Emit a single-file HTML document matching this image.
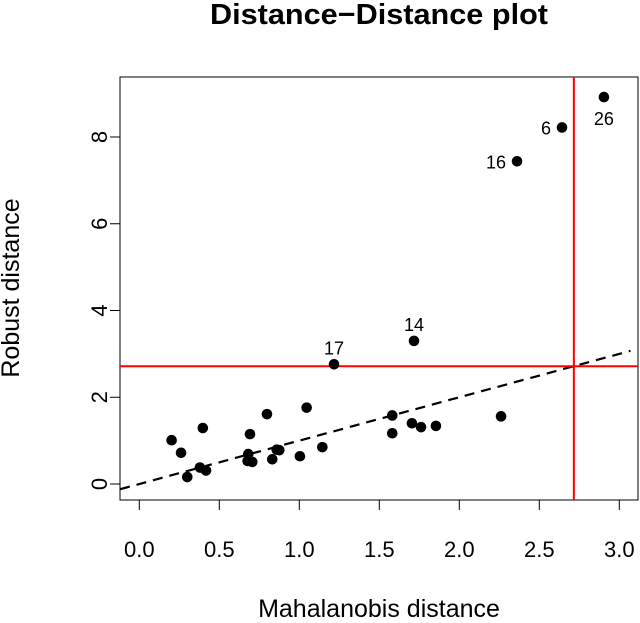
<!DOCTYPE html>
<html><head><meta charset="utf-8"><style>
body{margin:0;background:#fff}
svg{display:block;font-family:"Liberation Sans",sans-serif}
</style></head><body>
<svg width="640" height="623" viewBox="0 0 640 623">
<text x="379" y="24" text-anchor="middle" font-size="29" font-weight="bold" textLength="338" lengthAdjust="spacingAndGlyphs">Distance−Distance plot</text>
<rect x="120" y="77" width="518" height="423" fill="none" stroke="#000" stroke-width="1"/>
<g id="xaxis"></g>
<g id="yaxis"></g>
<text x="379" y="617" text-anchor="middle" font-size="25">Mahalanobis distance</text>
<text transform="translate(19,288) rotate(-90)" text-anchor="middle" font-size="25">Robust distance</text>
<g id="marks"></g>
</svg>
<script>
const xTicks=[0,0.5,1,1.5,2,2.5,3];
const xTickLabels=["0.0","0.5","1.0","1.5","2.0","2.5","3.0"];
const yTicks=[0,2,4,6,8];
const yTickLabels=["0","2","4","6","8"];
const mdX=[0.202,0.261,0.397,0.300,0.379,0.417,0.692,0.681,0.677,0.706,0.798,0.831,0.859,0.875,1.004,1.046,1.144,1.581,1.581,1.704,1.761,1.854,2.261,1.217,1.717,2.361,2.642,2.904];
const rdY=[1.01,0.72,1.29,0.16,0.38,0.31,1.15,0.69,0.53,0.51,1.61,0.57,0.79,0.78,0.64,1.76,0.85,1.58,1.17,1.40,1.31,1.34,1.56,2.76,3.30,7.44,8.22,8.92];
const pointLabels=["","","","","","","","","","","","","","","","","","","","","","","","17","14","16","6","26"];
const labelPos=["","","","","","","","","","","","","","","","","","","","","","","","above","above","left","left","below"];
const cutoff=[2.716];
const NS="http://www.w3.org/2000/svg";
const X=v=>139.3+v*160;
const Y=v=>484-v*43.375;
function mk(tag,attrs,parent,text){const e=document.createElementNS(NS,tag);for(const k in attrs)e.setAttribute(k,attrs[k]);if(text!==undefined)e.textContent=text;parent.appendChild(e);return e;}
const xa=document.getElementById('xaxis'),ya=document.getElementById('yaxis'),m=document.getElementById('marks');
mk('line',{x1:X(xTicks[0]),x2:X(xTicks[xTicks.length-1]),y1:500,y2:500,stroke:'#000'},xa);
xTicks.forEach((t,i)=>{
 const l=mk('line',{x1:X(t),x2:X(t),y1:500,y2:510,stroke:'#000'},xa);
 
 
 const tx=mk('text',{x:X(t),y:557,'text-anchor':'middle','font-size':'22'},xa,xTickLabels[i]);
 
 
});
mk('line',{x1:120,x2:120,y1:Y(yTicks[0]),y2:Y(yTicks[yTicks.length-1]),stroke:'#000'},ya);
yTicks.forEach((t,i)=>{
 const l=mk('line',{x1:110,x2:120,y1:Y(t),y2:Y(t),stroke:'#000'},ya);
 
 
 const tx=mk('text',{transform:`translate(107,${Y(t)}) rotate(-90)`,'text-anchor':'middle','font-size':'22'},ya,yTickLabels[i]);
 
 
});
const dl=mk('line',{x1:X(-0.12),y1:Y(-0.12),x2:X(3.07),y2:Y(3.07),stroke:'#000','stroke-width':2.2,'stroke-dasharray':'10 7'},m);


const vl=mk('line',{x1:X(cutoff[0]),x2:X(cutoff[0]),y1:77,y2:500,stroke:'#f00','stroke-width':2},m);


const hl=mk('line',{x1:120,x2:638,y1:Y(cutoff[0]),y2:Y(cutoff[0]),stroke:'#f00','stroke-width':2},m);


mdX.forEach((x,i)=>{
 const c=mk('circle',{cx:X(x),cy:Y(rdY[i]),r:5.3,fill:'#000'},m);
 
 
 if(pointLabels[i]){
  let lx=X(x),ly=Y(rdY[i]),anc='middle';
  if(labelPos[i]==='above')ly-=10;
  else if(labelPos[i]==='below')ly+=28;
  else {lx-=11;ly+=7;anc='end';}
  const t=mk('text',{x:lx,y:ly,'text-anchor':anc,'font-size':'18'},m,pointLabels[i]);
  
  
 }
});
</script>
</body></html>
